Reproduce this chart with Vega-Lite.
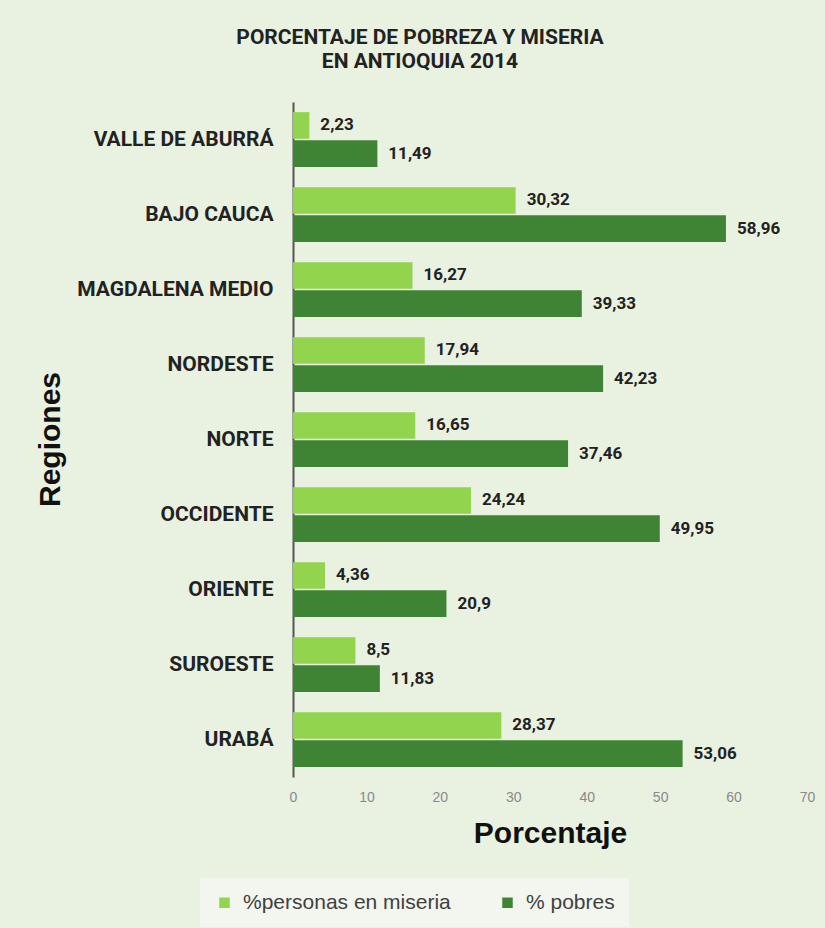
{
  "$schema": "https://vega.github.io/schema/vega-lite/v6.json",
  "width": 514,
  "height": 675,
  "autosize": {"type": "none"},
  "padding": {"left": 293, "top": 102, "right": 18, "bottom": 151},
  "background": "#e9f1e0",
  "config": {
    "locale": {"number": {"decimal": ",", "thousands": ".", "grouping": [3], "currency": ["", " €"]}},
    "view": {"stroke": null},
    "font": "Liberation Sans"
  },
  "title": {
    "text": ["PORCENTAJE DE POBREZA Y MISERIA", "EN ANTIOQUIA 2014"],
    "fontSize": 21,
    "fontWeight": "bold",
    "font": "Roboto",
    "color": "#222222",
    "anchor": "middle",
    "dx": -130,
    "offset": 30,
    "lineHeight": 24
  },
  "data": {
    "values": [
      {"region": "VALLE DE ABURRÁ", "serie": "%personas en miseria", "valor": 2.23},
      {"region": "VALLE DE ABURRÁ", "serie": "% pobres", "valor": 11.49},
      {"region": "BAJO CAUCA", "serie": "%personas en miseria", "valor": 30.32},
      {"region": "BAJO CAUCA", "serie": "% pobres", "valor": 58.96},
      {"region": "MAGDALENA MEDIO", "serie": "%personas en miseria", "valor": 16.27},
      {"region": "MAGDALENA MEDIO", "serie": "% pobres", "valor": 39.33},
      {"region": "NORDESTE", "serie": "%personas en miseria", "valor": 17.94},
      {"region": "NORDESTE", "serie": "% pobres", "valor": 42.23},
      {"region": "NORTE", "serie": "%personas en miseria", "valor": 16.65},
      {"region": "NORTE", "serie": "% pobres", "valor": 37.46},
      {"region": "OCCIDENTE", "serie": "%personas en miseria", "valor": 24.24},
      {"region": "OCCIDENTE", "serie": "% pobres", "valor": 49.95},
      {"region": "ORIENTE", "serie": "%personas en miseria", "valor": 4.36},
      {"region": "ORIENTE", "serie": "% pobres", "valor": 20.9},
      {"region": "SUROESTE", "serie": "%personas en miseria", "valor": 8.5},
      {"region": "SUROESTE", "serie": "% pobres", "valor": 11.83},
      {"region": "URABÁ", "serie": "%personas en miseria", "valor": 28.37},
      {"region": "URABÁ", "serie": "% pobres", "valor": 53.06}
    ]
  },
  "encoding": {
    "y": {
      "field": "region",
      "type": "nominal",
      "sort": null,
      "scale": {"paddingInner": 0.27, "paddingOuter": 0.135},
      "axis": {
        "title": "Regiones",
        "titleFontSize": 30,
        "titleFontWeight": "bold",
        "titleColor": "#111111",
        "titleFont": "Liberation Sans",
        "titleX": -234,
        "titleY": 337,
        "titleBaseline": "alphabetic",
        "labelFontSize": 21,
        "labelFontWeight": "bold",
        "labelFont": "Roboto",
        "labelColor": "#222222",
        "labelPadding": 20,
        "labelLimit": 0,
        "ticks": false,
        "domainColor": "#555555",
        "domainWidth": 2
      }
    },
    "yOffset": {
      "field": "serie",
      "type": "nominal",
      "sort": ["%personas en miseria", "% pobres"],
      "scale": {"paddingInner": 0.05}
    },
    "x": {
      "field": "valor",
      "type": "quantitative",
      "scale": {"domain": [0, 70], "nice": false},
      "axis": {
        "values": [0, 10, 20, 30, 40, 50, 60, 70],
        "domain": false,
        "ticks": false,
        "grid": false,
        "labelFlush": false,
        "labelColor": "#8a8a8a",
        "labelFontSize": 14,
        "labelPadding": 13,
        "title": "Porcentaje",
        "titleFontSize": 30,
        "titleFontWeight": "bold",
        "titleColor": "#111111",
        "titlePadding": 14
      }
    }
  },
  "layer": [
    {
      "mark": {"type": "bar"},
      "encoding": {
        "color": {
          "field": "serie",
          "type": "nominal",
          "scale": {"domain": ["%personas en miseria", "% pobres"], "range": ["#92d44e", "#3f8434"]},
          "legend": {
            "orient": "none",
            "legendX": -93,
            "legendY": 776,
            "direction": "horizontal",
            "title": null,
            "fillColor": "#f3f6ef",
            "padding": 14,
            "labelFontSize": 21,
            "labelColor": "#404040",
            "labelLimit": 0,
            "labelOffset": 8,
            "symbolType": "square",
            "symbolSize": 110,
            "symbolStrokeWidth": 0,
            "columnPadding": 46
          }
        }
      }
    },
    {
      "mark": {"type": "text", "align": "left", "dx": 11, "fontWeight": "bold", "fontSize": 17, "font": "Roboto", "color": "#222222"},
      "encoding": {
        "text": {"field": "valor", "type": "quantitative", "format": "~f"}
      }
    }
  ]
}
